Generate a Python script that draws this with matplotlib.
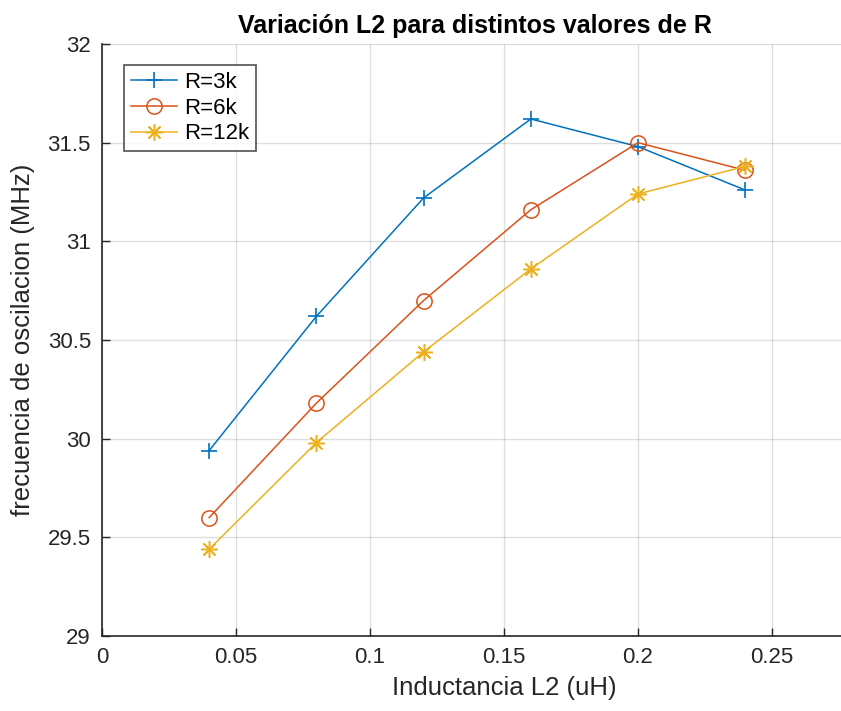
import matplotlib
matplotlib.use("Agg")
import matplotlib.pyplot as plt

# Inductance values L2 (uH) and oscillation frequency (MHz) for each R
L2 = [0.04, 0.08, 0.12, 0.16, 0.20, 0.24]
f_R3k = [29.94, 30.62, 31.22, 31.62, 31.48, 31.26]
f_R6k = [29.60, 30.18, 30.70, 31.16, 31.50, 31.36]
f_R12k = [29.44, 29.98, 30.44, 30.86, 31.24, 31.38]

labels = ["R=3k", "R=6k", "R=12k"]
xticks = [0, 0.05, 0.1, 0.15, 0.2, 0.25]
yticks = [29, 29.5, 30, 30.5, 31, 31.5, 32]

plt.rcParams["font.family"] = ["Liberation Sans", "DejaVu Sans"]
axis_color = "#262626"

fig = plt.figure(figsize=(8.41, 7.11), dpi=100)
ax = fig.add_axes([102 / 841, 75 / 711, 804 / 841, 592 / 711])

ax.plot(L2, f_R3k, color="#0072BD", lw=1.1, marker="+", ms=12, mew=1.2, label=labels[0])
ax.plot(L2, f_R6k, color="#D95319", lw=1.1, marker="o", ms=11, mew=1.1,
        mfc="none", label=labels[1])
ax.plot(L2, f_R12k, color="#EDB120", lw=1.1, marker=(8, 2, 0), ms=12, mew=1.1,
        label=labels[2])

ax.set_xlim(0, 0.3)
ax.set_ylim(29, 32)
ax.set_xticks(xticks)
ax.set_xticklabels(["0", "0.05", "0.1", "0.15", "0.2", "0.25"])
ax.set_yticks(yticks)
ax.set_yticklabels(["29", "29.5", "30", "30.5", "31", "31.5", "32"])

ax.grid(True, color="#262626", alpha=0.15, lw=1.0)
ax.set_axisbelow(True)

for side in ("top", "right"):
    ax.spines[side].set_visible(False)
for side in ("left", "bottom"):
    ax.spines[side].set_color(axis_color)
    ax.spines[side].set_linewidth(1.2)

ax.tick_params(direction="in", length=6, width=1.0, colors=axis_color,
               labelsize=16, pad=8)

ax.set_xlabel("Inductancia L2 (uH)", fontsize=18.5, color=axis_color, labelpad=6)
ax.set_ylabel("frecuencia de oscilacion (MHz)", fontsize=18.5, color=axis_color,
              labelpad=9)
ax.set_title("Variación L2 para distintos valores de R", fontsize=18,
             fontweight="bold", color="black", x=(475 - 102) / 804, pad=8)

leg = ax.legend(loc="upper left", bbox_to_anchor=(22 / 804, 1 - 21 / 592),
                fontsize=16, frameon=True, fancybox=False, borderpad=0.3,
                labelspacing=0.22, handlelength=2.1, handletextpad=0.3,
                borderaxespad=0)
leg.get_frame().set_edgecolor(axis_color)
leg.get_frame().set_linewidth(1.2)

fig.savefig("out.png", dpi=100)
